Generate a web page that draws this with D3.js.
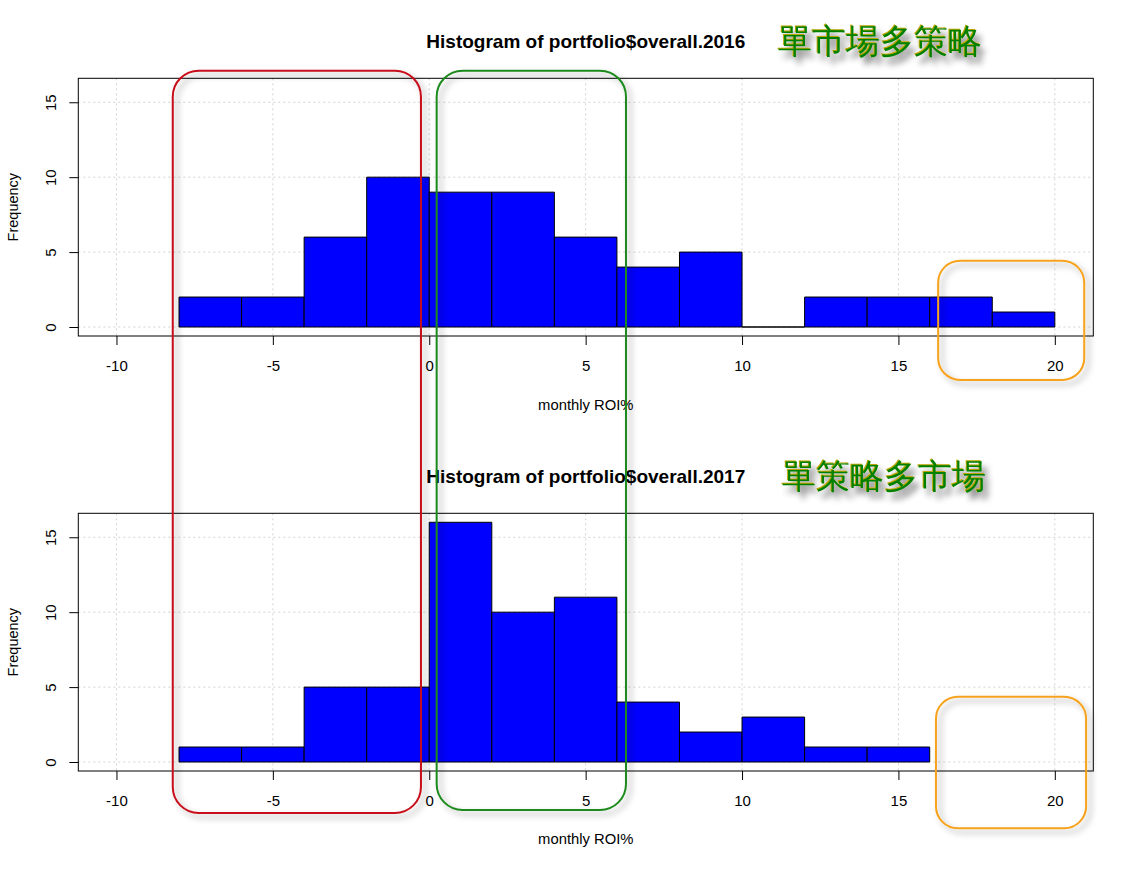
<!DOCTYPE html>
<html>
<head>
<meta charset="utf-8">
<script src="https://cdn.jsdelivr.net/npm/d3@7"></script>
<style>
html,body{margin:0;padding:0;background:#fff;}
svg{display:block;}
text{font-family:"Liberation Sans",Arial,sans-serif;}
</style>
</head>
<body>
<script>
// ---- data ----
const binWidth = 2;
const binStarts2016 = [-8,-6,-4,-2,0,2,4,6,8,10,12,14,16,18];
const counts2016   = [2,2,6,10,9,9,6,4,5,0,2,2,2,1];
const binStarts2017 = [-8,-6,-4,-2,0,2,4,6,8,10,12,14];
const counts2017   = [1,1,5,5,16,10,11,4,2,3,1,1];
const xTicks = [-10,-5,0,5,10,15,20];
const yTicks = [0,5,10,15];
const titles = ["Histogram of portfolio$overall.2016","Histogram of portfolio$overall.2017"];
const notes = ["單市場多策略","單策略多市場"];
const xLabel = "monthly ROI%";
const yLabel = "Frequency";

const W = 1134, H = 869;
const svg = d3.select("body").append("svg").attr("width",W).attr("height",H);
const defs = svg.append("defs");
const f1 = defs.append("filter").attr("id","boxShadow").attr("x","-20%").attr("y","-20%").attr("width","140%").attr("height","140%");
f1.append("feDropShadow").attr("dx",4).attr("dy",4).attr("stdDeviation",3).attr("flood-color","#000").attr("flood-opacity",0.35);
const f2 = defs.append("filter").attr("id","txtShadow").attr("x","-20%").attr("y","-50%").attr("width","140%").attr("height","200%");
f2.append("feDropShadow").attr("dx",5).attr("dy",7).attr("stdDeviation",3).attr("flood-color","#000").attr("flood-opacity",0.45);

const plotL = 78.3, plotR = 1093.3;
const x = d3.scaleLinear().domain([-11.22, 21.23]).range([plotL, plotR]);
const fmt = d => String(d);

const panels = [
  {starts: binStarts2016, counts: counts2016, top: 78.3, bottom: 336, title: titles[0], note: notes[0], titleY: 41, noteY: 41, noteX: 880, labY: 405},
  {starts: binStarts2017, counts: counts2017, top: 513.3, bottom: 771, title: titles[1], note: notes[1], titleY: 476, noteY: 476, noteX: 884, labY: 839}
];

panels.forEach(p => {
  const y = d3.scaleLinear().domain([-0.6, 16.6]).range([p.bottom, p.top]);
  const g = svg.append("g");
  // grid
  g.selectAll(".gx").data(xTicks).join("line")
    .attr("x1", d=>x(d)).attr("x2", d=>x(d)).attr("y1", p.top).attr("y2", p.bottom)
    .attr("stroke","#d3d3d3").attr("stroke-dasharray","2,3");
  g.selectAll(".gy").data(yTicks).join("line")
    .attr("x1", plotL).attr("x2", plotR).attr("y1", d=>y(d)).attr("y2", d=>y(d))
    .attr("stroke","#d3d3d3").attr("stroke-dasharray","2,3");
  // bars
  g.selectAll(".bar").data(p.starts.map((s,i)=>({s, c:p.counts[i]}))).join("path")
    .attr("d", d => {
      const x0 = x(d.s), x1 = x(d.s+binWidth), y0 = y(0), y1 = y(d.c);
      return `M${x0},${y0}H${x1}V${y1}H${x0}Z`;
    })
    .attr("fill","#0000ff").attr("stroke","#000").attr("stroke-width",1);
  // box
  g.append("rect").attr("x",plotL).attr("y",p.top).attr("width",plotR-plotL).attr("height",p.bottom-p.top)
    .attr("fill","none").attr("stroke","#000").attr("stroke-width",1);
  // x axis
  const ax = g.append("g").attr("transform",`translate(0,${p.bottom})`)
    .call(d3.axisBottom(x).tickValues(xTicks).tickSize(9).tickPadding(15).tickFormat(fmt));
  ax.select(".domain").remove();
  ax.selectAll("line").attr("stroke","#000");
  ax.selectAll("text").attr("font-size","15px").attr("fill","#000").attr("font-family","Liberation Sans, Arial, sans-serif");
  // y axis
  const ay = g.append("g").attr("transform",`translate(${plotL},0)`)
    .call(d3.axisLeft(y).tickValues(yTicks).tickSize(9).tickFormat(fmt));
  ay.select(".domain").remove();
  ay.selectAll("line").attr("stroke","#000");
  ay.selectAll("text").attr("x",null).attr("dy",null)
    .attr("transform","translate(-28,0) rotate(-90)")
    .attr("text-anchor","middle").attr("dominant-baseline","central")
    .attr("font-size","15px").attr("fill","#000").attr("font-family","Liberation Sans, Arial, sans-serif");
  // labels
  g.append("text").attr("x",(plotL+plotR)/2).attr("y",p.labY).attr("text-anchor","middle")
    .attr("dominant-baseline","central").attr("font-size","14.8px").text(xLabel);
  g.append("text").attr("transform",`translate(13,${(p.top+p.bottom)/2}) rotate(-90)`).attr("text-anchor","middle")
    .attr("dominant-baseline","central").attr("font-size","14.5px").text(yLabel);
  g.append("text").attr("x",(plotL+plotR)/2).attr("y",p.titleY).attr("text-anchor","middle")
    .attr("dominant-baseline","central").attr("font-size","19px").attr("font-weight","bold").text(p.title);
  // chinese note
  const ng = g.append("g").attr("filter","url(#txtShadow)");
  ng.append("text").attr("x",p.noteX-1).attr("y",p.noteY-1).attr("text-anchor","middle").attr("dominant-baseline","central")
    .attr("font-family","Noto Sans CJK TC").attr("font-weight",300).attr("font-size","34px").attr("fill","#b8a400").text(p.note);
  ng.append("text").attr("x",p.noteX).attr("y",p.noteY).attr("text-anchor","middle").attr("dominant-baseline","central")
    .attr("font-family","Noto Sans CJK TC").attr("font-weight",300).attr("font-size","34px").attr("fill","#008000").text(p.note);
});

// ---- annotation frames (x in data units) ----
const frames = [
  {x0:-8.20, x1:-0.265, y0:70.7, y1:813, r:26, color:"#c8101a"},
  {x0:0.237, x1:6.29, y0:70.7, y1:810, r:26, color:"#1b8a1b"},
  {x0:16.27, x1:20.94, y0:260.7, y1:380, r:22, color:"#f7a21b"},
  {x0:16.2, x1:21.0, y0:696.7, y1:828.3, r:22, color:"#f7a21b"}
];
svg.append("g").selectAll("rect").data(frames).join("rect")
  .attr("x", d=>x(d.x0)).attr("y", d=>d.y0)
  .attr("width", d=>x(d.x1)-x(d.x0)).attr("height", d=>d.y1-d.y0)
  .attr("rx", d=>d.r).attr("ry", d=>d.r)
  .attr("fill","none").attr("stroke", d=>d.color).attr("stroke-width",2)
  .attr("filter","url(#boxShadow)");
</script>
</body>
</html>
